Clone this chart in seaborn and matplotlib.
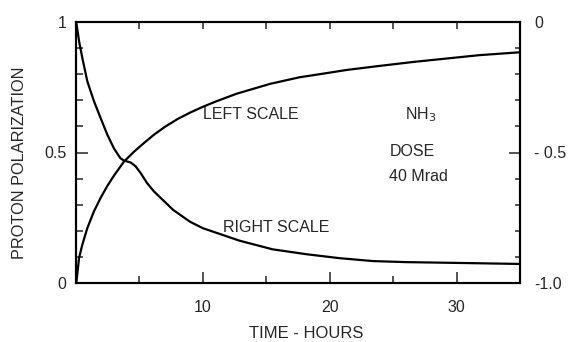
import numpy as np
import pandas as pd
import matplotlib
matplotlib.use("Agg")
import matplotlib.pyplot as plt
import seaborn as sns
from matplotlib.ticker import MultipleLocator

# Rising curve (left scale)
rise_t = [0, 0.05, 0.24, 0.5, 0.89, 1.42, 1.94, 2.47, 3.0, 3.78, 4.57, 5.35, 6.14, 7.0, 8.0,
          9.0, 10.0, 11.0, 12.65, 15.3, 17.6, 20.0, 21.3, 23.8, 26.6, 29.2, 31.8, 35.0]
rise_v = [0.0, 0.01, 0.096, 0.147, 0.21, 0.275, 0.326, 0.372, 0.412, 0.465, 0.503, 0.536, 0.568, 0.598, 0.628,
          0.653, 0.675, 0.695, 0.725, 0.763, 0.788, 0.806, 0.816, 0.831, 0.847, 0.86, 0.873, 0.884]

# Decaying curve (right scale)
decay_t = [0, 0.05, 0.24, 0.5, 0.89, 1.42, 1.94, 2.47, 3.0, 3.5, 3.78, 4.3, 4.7, 5.1, 5.6, 6.14, 7.66, 8.98,
           10.0, 12.9, 15.5, 18.2, 20.8, 23.4, 26.0, 31.3, 35.0]
decay_v = [0.0, -0.01, -0.073, -0.138, -0.227, -0.304, -0.368, -0.432, -0.485, -0.522, -0.531, -0.538, -0.553,
           -0.579, -0.617, -0.649, -0.72, -0.765, -0.79, -0.838, -0.871, -0.89, -0.905, -0.916, -0.92, -0.924, -0.927]

left_ticks = [0, 0.5, 1]
left_labels = ["0", "0.5", "1"]
right_ticks = [-1.0, -0.5, 0]
right_labels = ["-1.0", "- 0.5", "0"]
x_ticks = [10, 20, 30]

sns.set_style("ticks")
plt.rcParams['font.family'] = ['Liberation Sans', 'DejaVu Sans']

W, H = 571, 342
fig = plt.figure(figsize=(W / 100, H / 100), dpi=100)
ax = fig.add_axes([76 / W, 1 - 283 / H, (520 - 76) / W, (283 - 22) / H])
ax2 = ax.twinx()

df_r = pd.DataFrame({"t": rise_t, "v": rise_v})
df_d = pd.DataFrame({"t": decay_t, "v": decay_v})
sns.lineplot(data=df_r, x="t", y="v", ax=ax, color="black", lw=1.6, estimator=None, sort=False)
sns.lineplot(data=df_d, x="t", y="v", ax=ax2, color="black", lw=1.6, estimator=None, sort=False)
for a in (ax, ax2):
    for ln in a.lines:
        ln.set_solid_joinstyle("round")
        ln.set_solid_capstyle("round")

ax.set_xlim(0, 35)
ax.set_ylim(0, 1)
ax2.set_ylim(-1, 0)

for a in (ax, ax2):
    for s in a.spines.values():
        s.set_visible(True)
        s.set_linewidth(1.5)
        s.set_color("black")

FS = 11.5
ax.set_xticks(x_ticks)
ax.set_xticklabels([str(v) for v in x_ticks])
ax.xaxis.set_minor_locator(MultipleLocator(5))
ax.set_yticks(left_ticks)
ax.set_yticklabels(left_labels)
ax.yaxis.set_minor_locator(MultipleLocator(0.1))
ax.tick_params(axis="x", which="major", direction="in", length=8, width=1.1, labelsize=FS, pad=12,
               bottom=True, top=False)
ax.tick_params(axis="x", which="minor", direction="in", length=5, width=1.1, bottom=True, top=False)
ax.tick_params(axis="y", which="major", direction="in", length=8.5, width=1.1, labelsize=FS, pad=7,
               left=True, right=False)
ax.tick_params(axis="y", which="minor", direction="in", length=5, width=1.1, left=True, right=False)

# top ticks, all short
ax2.xaxis.set_visible(True)
ax2.set_xlabel("")
ax2.tick_params(axis="x", which="both", direction="in", length=5, width=1.1,
                bottom=False, top=True, labelbottom=False, labeltop=False)

ax2.set_yticks(right_ticks)
ax2.set_yticklabels(right_labels)
ax2.yaxis.set_minor_locator(MultipleLocator(0.1))
ax2.tick_params(axis="y", which="major", direction="in", length=8, width=1.1, labelsize=FS, pad=10,
                right=True, left=False)
ax2.tick_params(axis="y", which="minor", direction="in", length=3.5, width=1.1, right=True, left=False)

ax.set_xlabel("")
ax.set_ylabel("")
ax2.set_ylabel("")
fig.text(306 / W, 1 - 334 / H, "TIME - HOURS", fontsize=12, ha="center", va="center")
fig.text(20 / W, 1 - 163 / H, "PROTON POLARIZATION", fontsize=11.7, rotation=90, ha="center", va="center")

ax.text(10.0, 0.644, "LEFT SCALE", fontsize=FS, va="center", ha="left")
ax.text(11.55, 0.211, "RIGHT SCALE", fontsize=FS, va="center", ha="left")
ax.text(25.9, 0.644, r"NH$_3$", fontsize=FS, va="center", ha="left")
ax.text(24.7, 0.502, "DOSE", fontsize=FS, va="center", ha="left")
ax.text(24.7, 0.407, "40 Mrad", fontsize=FS, va="center", ha="left")

fig.savefig("out.png", dpi=100)
